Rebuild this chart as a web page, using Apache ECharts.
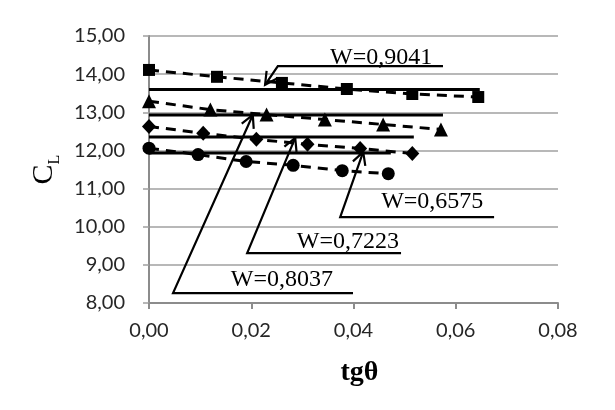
<!DOCTYPE html>
<html>
<head>
<meta charset="utf-8">
<script src="https://cdn.jsdelivr.net/npm/echarts@6/dist/echarts.min.js"></script>
<style>
  html, body { margin: 0; padding: 0; background: #fff; }
  #chart { width: 615px; height: 410px; }
</style>
</head>
<body>
<div id="chart"></div>
<script>
// measured points, tgθ / C_L
const sqX = [0, 0.0133, 0.026, 0.0387, 0.0515, 0.0644];
const sqY = [14.11, 13.93, 13.77, 13.61, 13.48, 13.40];
const trX = [0, 0.012, 0.023, 0.0344, 0.0458, 0.0571];
const trY = [13.29, 13.07, 12.94, 12.81, 12.68, 12.55];
const diX = [0, 0.0106, 0.021, 0.031, 0.0413, 0.0515];
const diY = [12.63, 12.45, 12.29, 12.16, 12.05, 11.92];
const ciX = [0, 0.0096, 0.019, 0.0282, 0.0378, 0.0468];
const ciY = [12.06, 11.89, 11.71, 11.61, 11.47, 11.39];

// constant (solid) lines: level and end of line
const flatY = [13.60, 12.93, 12.35, 11.93];
const flatEnd = [0.0647, 0.0575, 0.0518, 0.0473];

// annotations: W label, arrow tip, underline start / end, text centre
const wLabels = ['W=0,9041', 'W=0,8037', 'W=0,7223', 'W=0,6575'];
const tipPts = [[0.0227, 13.72], [0.0203, 12.93], [0.0286, 12.33], [0.0419, 11.96]];
const lineStart = [[0.0252, 14.21], [0.0047, 8.26], [0.0192, 9.31], [0.0374, 10.25]];
const lineEnd = [[0.0575, 14.21], [0.0399, 8.26], [0.0493, 9.31], [0.0675, 10.25]];
const textPos = [[0.0454, 14.42], [0.026, 8.60], [0.0389, 9.60], [0.0554, 10.65]];

const comma = (v) => v.toFixed(2).replace('.', ',');
const pairs = (xs, ys) => xs.map((x, i) => [x, ys[i]]);

const dashed = (xs, ys, symbol, size) => ({
    type: 'line',
    data: pairs(xs, ys),
    symbol: symbol,
    symbolSize: size,
    itemStyle: { color: '#000' },
    lineStyle: { color: '#000', width: 3, type: [10, 7] },
    z: 3
});

let series = [
    dashed(sqX, sqY, 'rect', 12),
    dashed(trX, trY, 'triangle', 14),
    dashed(diX, diY, 'diamond', [14, 15]),
    dashed(ciX, ciY, 'circle', 13)
];
flatY.forEach((y, i) => {
    series.push({
        type: 'line',
        data: [[0, y], [flatEnd[i], y]],
        symbol: 'none',
        lineStyle: { color: '#000', width: 3 },
        z: 4
    });
});

// arrow + underline + label, placed in data coords
series.push({
    type: 'custom',
    silent: true,
    clip: false,
    z: 5,
    encode: { x: [0, 2, 4, 6], y: [1, 3, 5, 7] },
    data: wLabels.map((w, i) => [
        tipPts[i][0], tipPts[i][1],
        lineStart[i][0], lineStart[i][1],
        lineEnd[i][0], lineEnd[i][1],
        textPos[i][0], textPos[i][1]
    ]),
    renderItem: function(params, api){
        let tip = api.coord([api.value(0), api.value(1)]);
        let st = api.coord([api.value(2), api.value(3)]);
        let en = api.coord([api.value(4), api.value(5)]);
        let tx = api.coord([api.value(6), api.value(7)]);
        let dx = st[0] - tip[0], dy = st[1] - tip[1];
        let len = Math.sqrt(dx * dx + dy * dy);
        dx /= len; dy /= len;
        let a = 28 * Math.PI / 180, L = 14;
        let h1 = [tip[0] + L * (dx * Math.cos(a) - dy * Math.sin(a)), tip[1] + L * (dx * Math.sin(a) + dy * Math.cos(a))];
        let h2 = [tip[0] + L * (dx * Math.cos(-a) - dy * Math.sin(-a)), tip[1] + L * (dx * Math.sin(-a) + dy * Math.cos(-a))];
        return {
            type: 'group',
            children: [
                { type: 'polyline', shape: { points: [tip, st, en] }, style: { stroke: '#000', lineWidth: 2.2, fill: null } },
                { type: 'polyline', shape: { points: [h1, tip, h2] }, style: { stroke: '#000', lineWidth: 2.2, fill: null } },
                { type: 'text', style: {
                    text: wLabels[params.dataIndex], x: tx[0], y: tx[1],
                    align: 'center', verticalAlign: 'middle',
                    font: '24px "Liberation Serif", serif', fill: '#000'
                } }
            ]
        };
    }
});

let chart = echarts.init(document.getElementById('chart'));
chart.setOption({
    animation: false,
    backgroundColor: '#fff',
    grid: { left: 149, right: 57, top: 36, bottom: 107 },
    xAxis: {
        type: 'value',
        min: 0, max: 0.08, interval: 0.02,
        name: 'tgθ',
        nameLocation: 'middle',
        nameGap: 56,
        nameTextStyle: { fontFamily: 'Liberation Serif', fontWeight: 'bold', fontSize: 28, color: '#000', padding: [0, 0, 0, 12] },
        axisLine: { lineStyle: { color: '#8c8c8c', width: 2 } },
        axisTick: { show: true, length: 6, lineStyle: { color: '#8c8c8c', width: 2 } },
        axisLabel: { formatter: comma, fontFamily: 'Lato', fontSize: 20, color: '#262626', margin: 18 },
        splitLine: { show: false }
    },
    yAxis: {
        type: 'value',
        min: 8, max: 15, interval: 1,
        name: '{c|C}{l|L}',
        nameLocation: 'middle',
        nameGap: 90,
        nameTextStyle: {
            color: '#000',
            rich: {
                c: { fontFamily: 'Liberation Serif', fontSize: 30, color: '#000', verticalAlign: 'bottom' },
                l: { fontFamily: 'Liberation Serif', fontSize: 16, color: '#000', verticalAlign: 'bottom', padding: [0, 0, -4, 0] }
            }
        },
        axisLine: { show: true, lineStyle: { color: '#8c8c8c', width: 2 } },
        axisTick: { show: true, inside: false, length: 6, lineStyle: { color: '#a0a0a0', width: 1.5 } },
        axisLabel: { formatter: comma, fontFamily: 'Lato', fontSize: 20, color: '#262626', margin: 24 },
        splitLine: { show: true, lineStyle: { color: '#a0a0a0', width: 1.5 } }
    },
    series: series
});
</script>
</body>
</html>
